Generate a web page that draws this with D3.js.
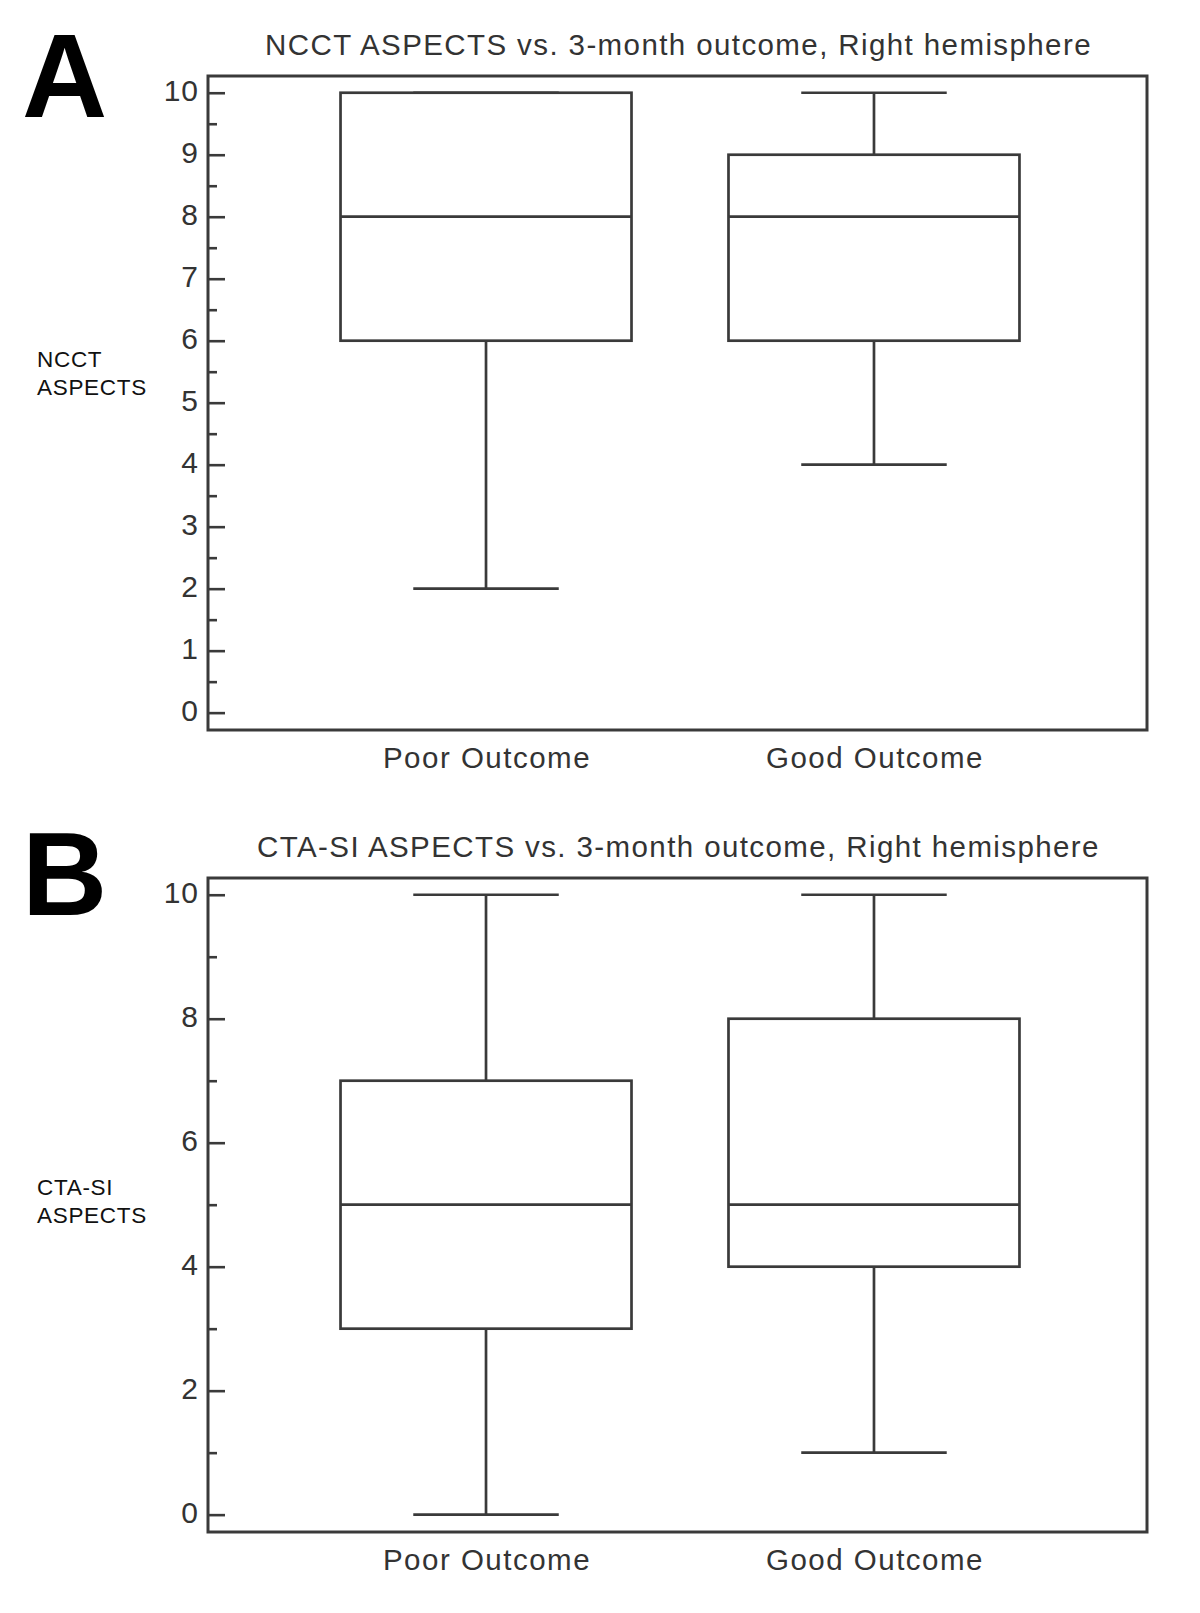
<!DOCTYPE html>
<html>
<head>
<meta charset="utf-8">
<script src="https://cdn.jsdelivr.net/npm/d3@7"></script>
<style>
  body { margin: 0; background: #fff; }
  svg { display: block; }
  text { font-family: "Liberation Sans", Arial, Helvetica, sans-serif; }
</style>
</head>
<body>
<svg id="chart" width="1200" height="1613"></svg>
<script>
// ---- Data ----
const categories = ["Poor Outcome", "Good Outcome"];

// Panel A: NCCT ASPECTS  [min, q1, median, q3, max]
const nccMin    = [2, 4];
const nccQ1     = [6, 6];
const nccMedian = [8, 8];
const nccQ3     = [10, 9];
const nccMax    = [10, 10];

// Panel B: CTA-SI ASPECTS
const ctaMin    = [0, 1];
const ctaQ1     = [3, 4];
const ctaMedian = [5, 5];
const ctaQ3     = [7, 8];
const ctaMax    = [10, 10];

const ticksA = [0, 1, 2, 3, 4, 5, 6, 7, 8, 9, 10];
const minorA = [0.5, 1.5, 2.5, 3.5, 4.5, 5.5, 6.5, 7.5, 8.5, 9.5];
const ticksB = [0, 2, 4, 6, 8, 10];
const minorB = [1, 3, 5, 7, 9];

const panels = [
  { letter: "A", title: "NCCT ASPECTS vs. 3-month outcome, Right hemisphere",
    ylab: ["NCCT", "ASPECTS"], top: 76, ylabY: 367, letterY: 117,
    min: nccMin, q1: nccQ1, med: nccMedian, q3: nccQ3, max: nccMax,
    ticks: ticksA, minor: minorA },
  { letter: "B", title: "CTA-SI ASPECTS vs. 3-month outcome, Right hemisphere",
    ylab: ["CTA-SI", "ASPECTS"], top: 878, ylabY: 1195, letterY: 915,
    min: ctaMin, q1: ctaQ1, med: ctaMedian, q3: ctaQ3, max: ctaMax,
    ticks: ticksB, minor: minorB }
];

const svg = d3.select("#chart");
const left = 208, right = 1147, plotH = 654;
const ink = "#3a3a3a";

panels.forEach(p => {
  const g = svg.append("g");
  const top = p.top, bottom = top + plotH;

  const x = d3.scalePoint().domain(categories).range([left + 1, right + 4]).padding(0.714);
  const y = d3.scaleLinear().domain([-0.28, 10.27]).range([bottom, top]);
  const step = x.step();
  const boxW = step * 0.75, capW = step * 0.375;

  // panel letter
  g.append("text").attr("x", 22).attr("y", p.letterY)
    .attr("font-size", 118).attr("font-weight", "bold").attr("fill", "#000")
    .text(p.letter);

  // title
  g.append("text").attr("x", (left + right) / 2 + 1).attr("y", top - 21)
    .attr("text-anchor", "middle").attr("font-size", 29.5).attr("fill", "#333")
    .attr("letter-spacing", 1.4)
    .text(p.title);

  // y label
  g.append("text").attr("x", 37).attr("y", p.ylabY)
    .attr("font-size", 22.5).attr("fill", "#111").attr("letter-spacing", 0.7)
    .selectAll("tspan").data(p.ylab).join("tspan")
    .attr("x", 37).attr("dy", (d, i) => i === 0 ? 0 : 28).text(d => d);

  // y axis major ticks (inward)
  const ax = g.append("g").attr("transform", `translate(${left},0)`)
    .call(d3.axisLeft(y).tickValues(p.ticks).tickSizeInner(-17).tickSizeOuter(0).tickPadding(9));
  ax.select(".domain").remove();
  ax.selectAll(".tick line").attr("stroke", ink).attr("stroke-width", 2.6);
  ax.selectAll(".tick text").attr("font-size", 30).attr("fill", "#333")
    .attr("letter-spacing", 1)
    .attr("font-family", '"Liberation Sans", Arial, sans-serif').attr("dy", "0.27em");

  // minor ticks
  const mx = g.append("g").attr("transform", `translate(${left},0)`)
    .call(d3.axisLeft(y).tickValues(p.minor).tickSizeInner(-9).tickSizeOuter(0).tickFormat(""));
  mx.select(".domain").remove();
  mx.selectAll(".tick line").attr("stroke", ink).attr("stroke-width", 2.6);

  // x labels
  g.selectAll(".xl").data(categories).join("text")
    .attr("x", d => x(d) + 1).attr("y", bottom + 38)
    .attr("text-anchor", "middle").attr("font-size", 29.5).attr("fill", "#333")
    .attr("letter-spacing", 1.5)
    .text(d => d);

  // boxes
  categories.forEach((c, i) => {
    const cx = x(c);
    const bg = g.append("g").attr("stroke", ink).attr("stroke-width", 2.7).attr("fill", "none");
    // whiskers
    bg.append("line").attr("x1", cx).attr("x2", cx).attr("y1", y(p.q3[i])).attr("y2", y(p.max[i]));
    bg.append("line").attr("x1", cx).attr("x2", cx).attr("y1", y(p.q1[i])).attr("y2", y(p.min[i]));
    // caps
    bg.append("line").attr("x1", cx - capW / 2).attr("x2", cx + capW / 2).attr("y1", y(p.max[i])).attr("y2", y(p.max[i]));
    bg.append("line").attr("x1", cx - capW / 2).attr("x2", cx + capW / 2).attr("y1", y(p.min[i])).attr("y2", y(p.min[i]));
    // box
    bg.append("rect").attr("x", cx - boxW / 2).attr("width", boxW)
      .attr("y", y(p.q3[i])).attr("height", y(p.q1[i]) - y(p.q3[i])).attr("fill", "#fff");
    // median
    bg.append("line").attr("x1", cx - boxW / 2).attr("x2", cx + boxW / 2).attr("y1", y(p.med[i])).attr("y2", y(p.med[i]));
  });

  // frame
  g.append("rect").attr("x", left).attr("y", top).attr("width", right - left).attr("height", plotH)
    .attr("fill", "none").attr("stroke", ink).attr("stroke-width", 3);
});
</script>
</body>
</html>
